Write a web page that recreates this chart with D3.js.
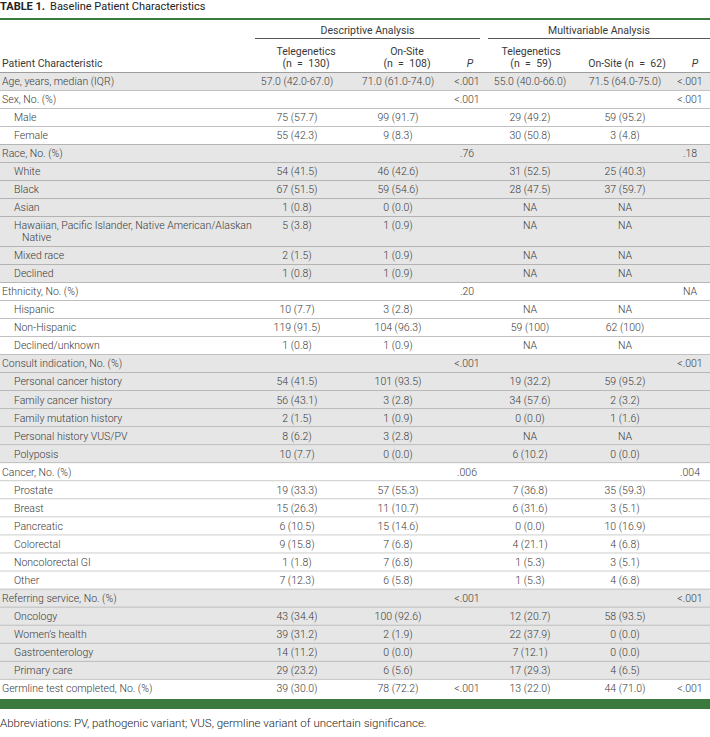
<!DOCTYPE html>
<html>
<head>
<meta charset="utf-8">
<script src="https://cdn.jsdelivr.net/npm/d3@7"></script>
<style>
  body { margin: 0; background: #fff; }
  svg { font-family: Roboto, "Noto Sans", sans-serif; }
</style>
</head>
<body>
<svg id="table" width="710" height="737"></svg>
<script>
// row labels, indent level (0 = group or stand-alone row, 1 = sub row)
var labels = ["Age, years, median (IQR)", "Sex, No. (%)", "Male", "Female", "Race, No. (%)", "White", "Black", "Asian",
  "Hawaiian, Pacific Islander, Native American/Alaskan|Native", "Mixed race", "Declined", "Ethnicity, No. (%)", "Hispanic",
  "Non-Hispanic", "Declined/unknown", "Consult indication, No. (%)", "Personal cancer history", "Family cancer history",
  "Family mutation history", "Personal history VUS/PV", "Polyposis", "Cancer, No. (%)", "Prostate", "Breast", "Pancreatic",
  "Colorectal", "Noncolorectal GI", "Other", "Referring service, No. (%)", "Oncology", "Women\u2019s health",
  "Gastroenterology", "Primary care", "Germline test completed, No. (%)"];
var indent = [0, 0, 1, 1, 0, 1, 1, 1, 1, 1, 1, 0, 1, 1, 1, 0, 1, 1, 1, 1, 1, 0, 1, 1, 1, 1, 1, 1, 0, 1, 1, 1, 1, 0];

var descTele = ["57.0 (42.0-67.0)", "", "75 (57.7)", "55 (42.3)", "", "54 (41.5)", "67 (51.5)", "1 (0.8)", "5 (3.8)", "2 (1.5)",
  "1 (0.8)", "", "10 (7.7)", "119 (91.5)", "1 (0.8)", "", "54 (41.5)", "56 (43.1)", "2 (1.5)", "8 (6.2)", "10 (7.7)", "",
  "19 (33.3)", "15 (26.3)", "6 (10.5)", "9 (15.8)", "1 (1.8)", "7 (12.3)", "", "43 (34.4)", "39 (31.2)", "14 (11.2)",
  "29 (23.2)", "39 (30.0)"];
var descOnsite = ["71.0 (61.0-74.0)", "", "99 (91.7)", "9 (8.3)", "", "46 (42.6)", "59 (54.6)", "0 (0.0)", "1 (0.9)", "1 (0.9)",
  "1 (0.9)", "", "3 (2.8)", "104 (96.3)", "1 (0.9)", "", "101 (93.5)", "3 (2.8)", "1 (0.9)", "3 (2.8)", "0 (0.0)", "",
  "57 (55.3)", "11 (10.7)", "15 (14.6)", "7 (6.8)", "7 (6.8)", "6 (5.8)", "", "100 (92.6)", "2 (1.9)", "0 (0.0)",
  "6 (5.6)", "78 (72.2)"];
var descP = ["<.001", "<.001", "", "", ".76", "", "", "", "", "", "", ".20", "", "", "", "<.001", "", "", "", "", "",
  ".006", "", "", "", "", "", "", "<.001", "", "", "", "", "<.001"];
var multiTele = ["55.0 (40.0-66.0)", "", "29 (49.2)", "30 (50.8)", "", "31 (52.5)", "28 (47.5)", "NA", "NA", "NA", "NA", "",
  "NA", "59 (100)", "NA", "", "19 (32.2)", "34 (57.6)", "0 (0.0)", "NA", "6 (10.2)", "", "7 (36.8)", "6 (31.6)",
  "0 (0.0)", "4 (21.1)", "1 (5.3)", "1 (5.3)", "", "12 (20.7)", "22 (37.9)", "7 (12.1)", "17 (29.3)", "13 (22.0)"];
var multiOnsite = ["71.5 (64.0-75.0)", "", "59 (95.2)", "3 (4.8)", "", "25 (40.3)", "37 (59.7)", "NA", "NA", "NA", "NA", "",
  "NA", "62 (100)", "NA", "", "59 (95.2)", "2 (3.2)", "1 (1.6)", "NA", "0 (0.0)", "", "35 (59.3)", "3 (5.1)",
  "10 (16.9)", "4 (6.8)", "3 (5.1)", "4 (6.8)", "", "58 (93.5)", "0 (0.0)", "0 (0.0)", "4 (6.5)", "44 (71.0)"];
var multiP = ["<.001", "<.001", "", "", ".18", "", "", "", "", "", "", "NA", "", "", "", "<.001", "", "", "", "", "",
  ".004", "", "", "", "", "", "", "<.001", "", "", "", "", "<.001"];

var columns = ["descTele", "descOnsite", "descP", "multiTele", "multiOnsite", "multiP"];
var colHeads = [["Telegenetics", "(n\u2002=\u2002130)"], ["On-Site", "(n\u2002=\u2002108)"], ["P"],
  ["Telegenetics", "(n\u2002=\u200259)"], ["On-Site (n\u2002=\u200262)"], ["P"]];
var spanners = ["Descriptive Analysis", "Multivariable Analysis"];

var title = "Baseline Patient Characteristics";
var footnote = "Abbreviations: PV, pathogenic variant; VUS, germline variant of uncertain significance.";

var svg = d3.select("#table"),
    width = +svg.attr("width"),
    green = "#3b7a3f",
    shade = "#e6e6e6",
    ink = "#3a3a3a",
    lineH = 12, rowH = 18;

var rows = labels.map(function(l, i) {
  return {
    label: l.split("|"), indent: indent[i],
    descTele: descTele[i], descOnsite: descOnsite[i], descP: descP[i],
    multiTele: multiTele[i], multiOnsite: multiOnsite[i], multiP: multiP[i]
  };
});

// group index -> alternating shading
var grp = -1;
rows.forEach(function(d) { if (d.indent === 0) grp++; d.group = grp; d.h = rowH + lineH * (d.label.length - 1); });
var acc = 0;
rows.forEach(function(d) { d.y0 = acc; acc += d.h; d.y1 = acc; });

var y = d3.scaleLinear().domain([0, acc]).range([72.5, 697.5]);
var x = d3.scaleOrdinal().domain(columns).range([297, 398, 467, 530, 625, 690]);
var xHead = d3.scaleOrdinal().domain(columns).range([306, 407, 470, 531, 627, 695]);

// title
var t = svg.append("text").attr("x", 0).attr("y", 10).attr("font-size", "11px").attr("fill", "#222");
t.append("tspan").attr("font-weight", "bold").text("TABLE 1.");
t.append("tspan").attr("dx", 5).text(title);

svg.append("rect").attr("x", 0).attr("y", 18).attr("width", width).attr("height", 2).attr("fill", green);

// spanners
var spanX = [[255, 480], [488, 710]];
spanners.forEach(function(s, i) {
  svg.append("text").attr("x", (spanX[i][0] + spanX[i][1]) / 2).attr("y", 34)
    .attr("text-anchor", "middle").attr("font-size", "10.5px").attr("fill", ink).text(s);
  svg.append("line").attr("x1", spanX[i][0]).attr("x2", spanX[i][1]).attr("y1", 38.5).attr("y2", 38.5)
    .attr("stroke", "#555").attr("stroke-width", 1);
});

// column headers
svg.append("text").attr("x", 2).attr("y", 67).attr("font-size", "10.5px").attr("fill", ink).text("Patient Characteristic");
columns.forEach(function(c, i) {
  var lines = colHeads[i];
  lines.forEach(function(l, j) {
    svg.append("text").attr("x", xHead(c)).attr("y", 67 - (lines.length - 1 - j) * lineH)
      .attr("text-anchor", "middle").attr("font-size", "10.5px").attr("fill", ink)
      .attr("font-style", l === "P" ? "italic" : null).text(l);
  });
});
svg.append("line").attr("x1", 0).attr("x2", width).attr("y1", 72.5).attr("y2", 72.5).attr("stroke", "#555");

// body
var row = svg.append("g").attr("class", "body").selectAll("g").data(rows).enter().append("g");

row.append("rect")
  .attr("x", 0).attr("y", function(d) { return y(d.y0); })
  .attr("width", width).attr("height", function(d) { return y(d.y1) - y(d.y0); })
  .attr("fill", function(d) { return d.group % 2 === 0 ? shade : "#fff"; });

row.filter(function(d, i) { return i < rows.length - 1; }).append("line")
  .attr("x1", 0).attr("x2", width)
  .attr("y1", function(d) { return y(d.y1); }).attr("y2", function(d) { return y(d.y1); })
  .attr("stroke", "#8c8c8c").attr("stroke-width", 1);

row.each(function(d) {
  var g = d3.select(this);
  var top = y(d.y0);
  d.label.forEach(function(l, j) {
    g.append("text").attr("x", d.indent ? 14 + (j ? 8 : 0) : 2).attr("y", top + 12.5 + j * lineH)
      .attr("font-size", "10.5px").attr("font-weight", 300).attr("fill", ink).text(l);
  });
  columns.forEach(function(c) {
    if (!d[c]) return;
    g.append("text").attr("x", x(c)).attr("y", top + 12.5)
      .attr("text-anchor", "middle").attr("font-size", "10.5px").attr("font-weight", 300)
      .attr("fill", ink).text(d[c]);
  });
});

svg.append("rect").attr("x", 0).attr("y", 699).attr("width", width).attr("height", 10).attr("fill", green);

svg.append("text").attr("x", 0).attr("y", 727).attr("font-size", "11.5px").attr("font-weight", 300)
  .attr("fill", "#222").text(footnote);
</script>
</body>
</html>
